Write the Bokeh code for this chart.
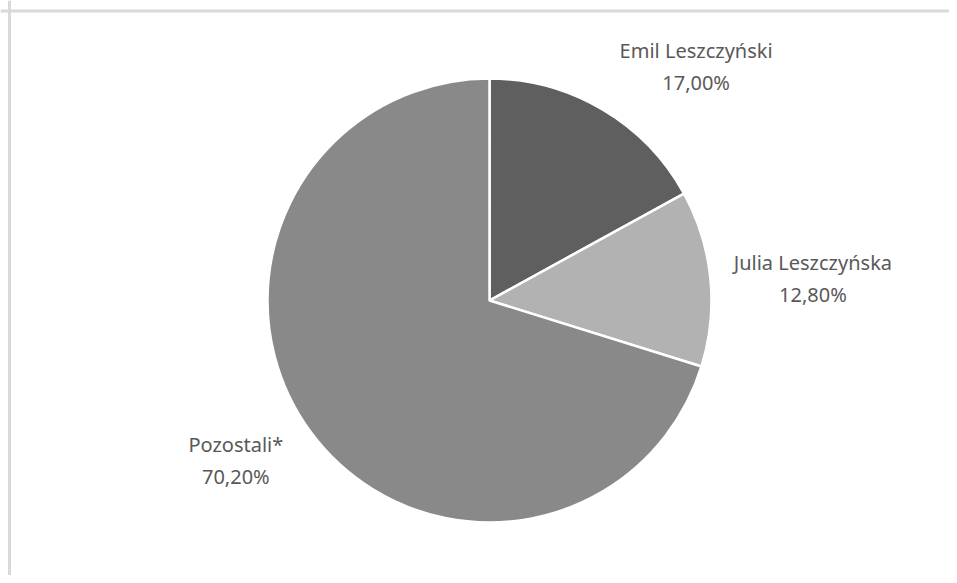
import math
from bokeh.plotting import figure
from bokeh.models import ColumnDataSource, Range1d, Span
from bokeh.core.properties import value
from bokeh.embed import file_html
from bokeh.resources import INLINE

# data
names = ["Emil Leszczyński", "Julia Leszczyńska", "Pozostali*"]
shares = [17.00, 12.80, 70.20]
pct_labels = ["17,00%", "12,80%", "70,20%"]
colors = ["#5f5f5f", "#b2b2b2", "#898989"]

W, H = 949, 575
cx, cy, R = 489, 275, 222

# wedge angles: start at top, clockwise
starts, ends = [], []
a = math.pi / 2
for s in shares:
    sweep = s / 100 * 2 * math.pi
    starts.append(a - sweep)
    ends.append(a)
    a -= sweep

src = ColumnDataSource(dict(x=[cx] * 3, y=[cy] * 3, start=starts, end=ends, color=colors))

p = figure(width=W, height=H, output_backend="svg", toolbar_location=None,
           x_range=Range1d(0, W), y_range=Range1d(0, H), min_border=0,
           outline_line_color=None)
p.axis.visible = False
p.grid.visible = False
p.background_fill_color = "white"
p.border_fill_color = "white"

p.wedge(x="x", y="y", radius=R, start_angle="start", end_angle="end",
        fill_color="color", line_color="white", line_width=2.5, source=src)

# label placement (layout): distance factor and angle tweak per slice
mids = [(s + e) / 2 for s, e in zip(starts, ends)]
lab_r = [1.405, 1.46, 1.35]
lab_da = [-0.19, -0.033, -0.073]
lx = [cx + R * f * math.cos(m + d) for m, f, d in zip(mids, lab_r, lab_da)]
ly = [cy + R * f * math.sin(m + d) for m, f, d in zip(mids, lab_r, lab_da)]
lsrc = ColumnDataSource(dict(x=lx, y=ly, name=names, pct=pct_labels))
common = dict(text_font=value("Noto Sans"), text_font_size="20px", text_color="#595959",
              text_align="center", text_baseline="middle", source=lsrc)
p.text(x="x", y="y", text="name", y_offset=-16, **common)
p.text(x="x", y="y", text="pct", y_offset=16, **common)

# chart area border (top and left visible)
p.add_layout(Span(location=H - 10.5, dimension="width", line_color="#d9d9d9", line_width=3))
p.add_layout(Span(location=9, dimension="height", line_color="#d9d9d9", line_width=3))

open("out.html", "w").write(file_html(p, INLINE))
